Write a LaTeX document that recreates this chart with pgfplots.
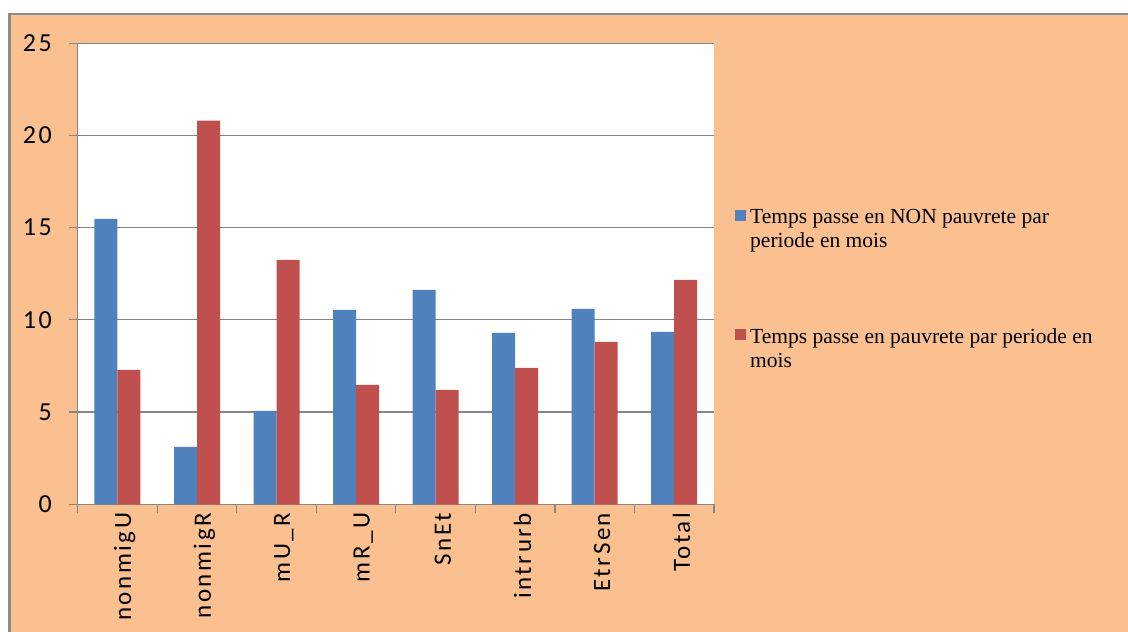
\documentclass[border=0pt]{standalone}
\usepackage{fontspec}
\setmainfont{Liberation Serif}
\newfontfamily\carlito{Carlito}
\newfontfamily\carlitowide[LetterSpace=10]{Carlito}
\usepackage{pgfplots}
\pgfplotsset{compat=1.18}
\definecolor{peach}{HTML}{FAC090}
\definecolor{barblue}{HTML}{4F81BD}
\definecolor{barred}{HTML}{C0504D}
\definecolor{gridgray}{HTML}{868686}
\definecolor{framegray}{HTML}{8C8C8C}
\pgfplotsset{sqlegend/.style={legend image code/.code={\fill[##1,draw=none] (0pt,-3pt) rectangle (11pt,8pt);}}}
\begin{document}
\begin{tikzpicture}
\fill[white] (-77.7pt,-127.7pt) rectangle (1050.3pt,504.3pt);
\useasboundingbox (-77.7pt,-127.7pt) rectangle (1050.3pt,504.3pt);
\fill[peach] (-67pt,-127.7pt) rectangle (1050.3pt,489.8pt);
\draw[framegray, line width=3pt] (-68.2pt,-130pt) -- (-68.2pt,491.6pt);
\draw[framegray, line width=2pt] (-69.7pt,490.6pt) -- (1052pt,490.6pt);
\begin{axis}[
  at={(0pt,0pt)}, anchor=south west,
  scale only axis, width=636.3pt, height=461pt,
  xmin=-0.5, xmax=7.5, ymin=0, ymax=25,
  ybar=0pt, bar width=23pt,
  axis background/.style={fill=white},
  axis x line*=bottom, axis y line*=left,
  axis line style={draw=gridgray, line width=1.2pt, -},
  tick align=outside,
  xtick={0,...,7},
  xticklabels={nonmigU,nonmigR,mU\_R,mR\_U,SnEt,intrurb,EtrSen,Total},
  major x tick style={draw=none},
  minor xtick={-0.5,0.5,...,7.5},
  minor tick length=9pt,
  major tick length=8.4pt,
  ytick={0,5,...,25},
  ymajorgrids,
  grid style={draw=gridgray, line width=1.2pt},
  tick style={draw=gridgray, line width=1.2pt},
  /pgf/number format/assume math mode=true,
  xticklabel style={font=\carlitowide\fontsize{25}{25}\selectfont, rotate=90, anchor=east, inner sep=0pt, yshift=-7.3pt},
  yticklabel style={font=\carlitowide\fontsize{26}{26}\selectfont, inner sep=0pt, xshift=-17.3pt},
  legend cell align=left,
  legend style={at={(axis description cs:1.0283,0.6442)}, anchor=north west,
    draw=none, fill=none, font=\fontsize{21.5}{23.5}\selectfont,
    row sep=103.5pt, column sep=4pt, nodes={inner sep=0pt}},
]
\addplot[fill=barblue, draw=none, sqlegend] coordinates {(0,15.48) (1,3.11) (2,5.06) (3,10.54) (4,11.63) (5,9.29) (6,10.6) (7,9.35)};
\addlegendentry{\parbox[t]{355pt}{\raggedright Temps passe en NON pauvrete par periode en mois}}
\addplot[fill=barred, draw=none, sqlegend] coordinates {(0,7.29) (1,20.8) (2,13.26) (3,6.47) (4,6.2) (5,7.40) (6,8.81) (7,12.17)};
\addlegendentry{\parbox[t]{355pt}{\raggedright Temps passe en pauvrete par periode en mois}}
\end{axis}
\end{tikzpicture}
\end{document}
